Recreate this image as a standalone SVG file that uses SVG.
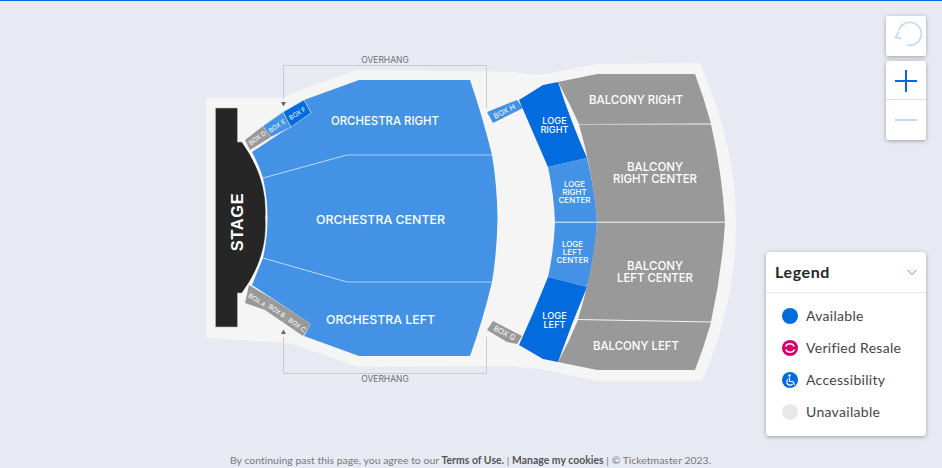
<svg xmlns="http://www.w3.org/2000/svg" width="942" height="468" viewBox="0 0 942 468">
<style>
.m{fill:#4492e6}.d{fill:#026cdf}.g{fill:#999}
.s{fill:none;stroke:#fff;stroke-opacity:.55;stroke-width:1}
.t{font-family:Inter,"Noto Sans",sans-serif;fill:#fff;text-anchor:middle;font-weight:500}
.o{font-size:12px}.b{font-size:12px}.l{font-size:9.200px}.lc{font-size:8px}
.x{font-size:6.300px;font-weight:400}.y{font-size:7.500px;font-weight:400}
.ov{font-family:Inter,"Noto Sans",sans-serif;font-size:8.500px;font-weight:400;fill:#6f6f6f;text-anchor:middle}
.br{fill:none;stroke:#c9cbd0;stroke-width:1}
.ar{fill:#666}
.lg{font-family:Lato,"Noto Sans",sans-serif;font-size:14px;fill:#444;letter-spacing:.3px}
.ft{font-family:Lato,"Noto Sans",sans-serif;font-size:10.400px;fill:#777;letter-spacing:.03px}
.ft tspan{fill:#555;font-weight:700}
.card{fill:#fff;filter:url(#sh)}
</style>
<defs><filter id="sh" x="-30%" y="-30%" width="160%" height="160%"><feDropShadow dx="0" dy="1" stdDeviation="2.2" flood-color="#000" flood-opacity=".32"/></filter></defs>
<rect width="942" height="468" fill="#e7eaf3"/>
<rect width="942" height="1" fill="#026cdf"/>
<path id="venue" fill="#f5f5f5" d="M206 98H283L300 90L358 70L510 72L540 75L597 64L700 63Q737 150 736 222Q737 300 702 381H597L540 369L510 366L358 367L290 343L206 338Z"/>
<g id="stage"><path fill="#262626" stroke="#bbb" stroke-width=".6" d="M215.500 108H237.500V142H242Q268 178 265.500 218Q268 258 242 293H237.500V327H215.500Z"/><path fill="none" stroke="#fff" stroke-width="1.500" d="M243 142Q269 178 266.500 218Q269 258 243 293"/><text x="0" y="0" transform="translate(243,222) rotate(-90)" font-family="'Liberation Sans',sans-serif" font-weight="700" font-size="16.500px" fill="#fff" text-anchor="middle" letter-spacing=".6">STAGE</text></g>
<g id="orchestra-right"><path class="m" d="M252 152L311 113L304 100L359 80H470Q483 118 492 155H347L263 178Q259 165 252 152Z"/><text class="t o" x="385" y="125" textLength="108" lengthAdjust="spacingAndGlyphs">ORCHESTRA RIGHT</text></g>
<g id="orchestra-center"><path class="m" d="M263 178L347 155H492Q497 185 497.500 218Q497 252 492 282H347L263 258Q272 218 263 178Z"/><text class="t o" x="380.500" y="224" textLength="129" lengthAdjust="spacingAndGlyphs">ORCHESTRA CENTER</text></g>
<g id="orchestra-left"><path class="m" d="M252 285L263 258L347 282H492Q483 320 470 356H359L304 336L311 324Z"/><text class="t o" x="380.500" y="324" textLength="109" lengthAdjust="spacingAndGlyphs">ORCHESTRA LEFT</text></g>
<g id="box-d"><path class="g" d="M245 140L263 126L271 137L250 150Z"/><text class="t x" y="2.200" transform="translate(257.500,138) rotate(-36)">BOX D</text></g>
<g id="box-e"><path class="m" stroke="#cfe2f8" stroke-width=".6" d="M263 126L283 112L291 127L271 137Z"/><text class="t x" y="2.200" transform="translate(277,126) rotate(-33)">BOX E</text></g>
<g id="box-f"><path class="d" stroke="#cfe2f8" stroke-width=".6" d="M283 112L304 100L311 113L291 127Z"/><text class="t x" y="2.200" transform="translate(297.500,113.500) rotate(-32)">BOX F</text></g>
<g id="box-a"><path class="g" d="M249 285L271 298L265 310L245 303Z"/><text class="t x" y="2.200" transform="translate(257,300) rotate(33)">BOX A</text></g>
<g id="box-b"><path class="g" d="M271 298L291 311L284 323L265 310Z"/><text class="t x" y="2.200" transform="translate(277,311) rotate(35)">BOX B</text></g>
<g id="box-c"><path class="g" d="M291 311L311 324L303 336L284 323Z"/><text class="t x" y="2.200" transform="translate(297,325) rotate(35)">BOX C</text></g>
<g id="box-h"><path class="m" d="M487 112L517 100L523 108L493 123Z"/><text class="t y" y="2.600" transform="translate(504.500,111.500) rotate(-27)">BOX H</text></g>
<g id="box-g"><path class="g" d="M493 321L522 336L517 344L507 342L487 330Z"/><text class="t y" y="2.600" transform="translate(504.500,333) rotate(27)">BOX G</text></g>
<g id="loge-right"><path class="d" d="M519 100L543 85L558 82Q571 122 587 158L548 167Q534 135 519 100Z"/><text class="t l"><tspan x="554.500" y="124">LOGE</tspan><tspan x="554.500" y="133">RIGHT</tspan></text></g>
<g id="loge-right-center"><path class="m" d="M548 167L587 158Q595 190 597 222H555Q554 195 548 167Z"/><text class="t lc"><tspan x="574.500" y="187">LOGE</tspan><tspan x="574.500" y="195">RIGHT</tspan><tspan x="574.500" y="203">CENTER</tspan></text></g>
<g id="loge-left-center"><path class="m" d="M555 222.500H597Q595 255 587 287L548 277Q554 250 555 222.500Z"/><text class="t lc"><tspan x="572.500" y="247">LOGE</tspan><tspan x="572.500" y="255">LEFT</tspan><tspan x="572.500" y="263">CENTER</tspan></text></g>
<g id="loge-left"><path class="d" d="M548 277L587 287Q571 325 558 362L543 359L519 345Q534 312 548 277Z"/><text class="t l"><tspan x="554.500" y="319">LOGE</tspan><tspan x="554.500" y="328">LEFT</tspan></text></g>
<g id="balcony-right"><path class="g" d="M558 82L597 74H695Q704 98 711 123.500L579 124Q569 102 558 82Z"/><text class="t b" x="636" y="104" textLength="94" lengthAdjust="spacingAndGlyphs">BALCONY RIGHT</text></g>
<g id="balcony-right-center"><path class="g" d="M579 124.500L711 124.500Q722 172 725 222H597Q593 172 579 124.500Z"/><text class="t b" x="655" y="171" textLength="56" lengthAdjust="spacingAndGlyphs">BALCONY</text><text class="t b" x="655" y="183" textLength="84" lengthAdjust="spacingAndGlyphs">RIGHT CENTER</text></g>
<g id="balcony-left-center"><path class="g" d="M597 222.500H725Q722 272 711 321.500L578 319Q593 272 597 222.500Z"/><text class="t b" x="655" y="270" textLength="56" lengthAdjust="spacingAndGlyphs">BALCONY</text><text class="t b" x="655" y="282" textLength="76" lengthAdjust="spacingAndGlyphs">LEFT CENTER</text></g>
<g id="balcony-left"><path class="g" d="M578 320L711 322.500Q704 347 695 370H597L558 362Q569 342 578 320Z"/><text class="t b" x="636" y="350" textLength="86" lengthAdjust="spacingAndGlyphs">BALCONY LEFT</text></g>
<g id="connectors">
<path class="s" d="M263 178L347 155H492M263 258L347 282H492M555 222H725"/>
<path class="br" d="M283.500 99V65.500H486.500V108M283.500 337V373.500H486.500V337"/>
<path class="ar" d="M281 102H286L283.500 106.500ZM281 334H286L283.500 329.500Z"/>
</g>
<text class="ov" x="385" y="63">OVERHANG</text>
<text class="ov" x="385" y="382">OVERHANG</text>
<g id="reset"><rect class="card" x="886" y="16" width="40" height="40" rx="3"/><path fill="none" stroke="#bfd8f5" stroke-width="1.500" d="M899 30A11.500 11.500 0 1 1 907 45M899 31.500L895.500 37.500L902 38.500"/></g>
<g id="zoom"><rect class="card" x="886" y="61" width="40" height="79" rx="3"/><path d="M886 99.500H926" stroke="#ddd"/><path d="M895 81H917M906 70V92" stroke="#026cdf" stroke-width="2"/><path d="M895 120H917" stroke="#bfd8f5" stroke-width="2"/></g>
<g id="legend"><rect class="card" x="766" y="252" width="160" height="184" rx="4"/>
<text x="775" y="278" font-family="Lato,'Noto Sans',sans-serif" font-size="16px" font-weight="700" fill="#262626" letter-spacing=".6">Legend</text>
<path d="M907.500 270L912 274.500L916.500 270" fill="none" stroke="#4492e6" stroke-width="1"/>
<path d="M766 292.500H926" stroke="#e7e7e7"/>
<circle cx="790" cy="316" r="8" fill="#026cdf"/><text class="lg" x="806" y="321">Available</text>
<circle cx="790" cy="348" r="8" fill="#d6006d"/><path d="M785.500 346.500A4.800 4.800 0 0 1 794.200 346.500M794.500 349.500A4.800 4.800 0 0 1 785.800 349.500" fill="none" stroke="#fff" stroke-width="1.500"/><text class="lg" x="806" y="353">Verified Resale</text>
<circle cx="790" cy="380" r="8" fill="#026cdf"/><circle cx="789.500" cy="375.500" r="1.200" fill="#fff"/><path d="M789.500 377.500V381.500H793L794.500 385M788 379.500A3.200 3.200 0 1 0 792.500 384" fill="none" stroke="#fff" stroke-width="1.200"/><text class="lg" x="806" y="385">Accessibility</text>
<circle cx="790" cy="412" r="8" fill="#e8e8e8"/><text class="lg" x="806" y="417">Unavailable</text></g>
<text class="ft" x="230" y="464">By continuing past this page, you agree to our <tspan>Terms of Use.</tspan> | <tspan>Manage my cookies</tspan> | © Ticketmaster 2023.</text>
</svg>
